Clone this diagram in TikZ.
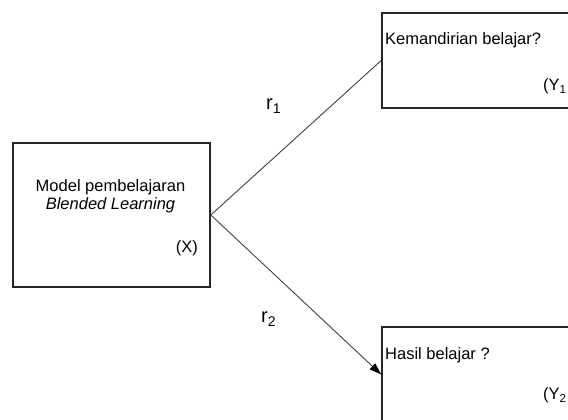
\documentclass[tikz,border=0pt]{standalone}
\usepackage{fontspec}
\setmainfont{Liberation Sans}
\usetikzlibrary{arrows.meta,positioning}

\begin{document}
\begin{tikzpicture}[x=1pt,y=1pt,font=\fontsize{16.5}{19}\selectfont,
  >={Triangle[length=12pt,width=8pt,fill=black,color=black]},
  box/.style={draw=black!85,line width=1.6pt,rectangle,inner sep=0pt},
  link/.style={draw=black!75,line width=0.9pt}]
\useasboundingbox (0,0) rectangle (568,420);
\clip (0,0) rectangle (568,420);
% variables
\node[box,minimum width=197,minimum height=144] (X) at (111.5,205) {};
\node[box,minimum width=200,minimum height=95] (Y1) at (482,359.5) {};
\node[box,minimum width=200,minimum height=95] (Y2) at (482,45.5) {};
% texts
\node[anchor=base] (xa) at (110.5,228) {Model pembelajaran};
\node[anchor=base] (xb) at (110.5,210) {\itshape Blended Learning};
\node[anchor=base east,inner sep=0pt] (xc) at (198,167) {(X)};
\node[anchor=base west,inner sep=0pt] (ya) at (385,375) {Kemandirian belajar?};
\node[anchor=base west,inner sep=0pt] (yb) at (543,329) {(Y\textsubscript{1}};
\node[anchor=base west,inner sep=0pt] (za) at (385,60) {Hasil belajar ?};
\node[anchor=base west,inner sep=0pt] (zb) at (543,20) {(Y\textsubscript{2}};
% relations
\draw[link] (X.east) -- (Y1.west);
\draw[link,->] (X.east) -- (Y2.west);
\node[anchor=base west,inner sep=0pt,font=\fontsize{20}{22}\selectfont] (r1) at (266,310) {r\textsubscript{1}};
\node[anchor=base west,inner sep=0pt,font=\fontsize{20}{22}\selectfont] (r2) at (261,97) {r\textsubscript{2}};
\end{tikzpicture}
\end{document}
